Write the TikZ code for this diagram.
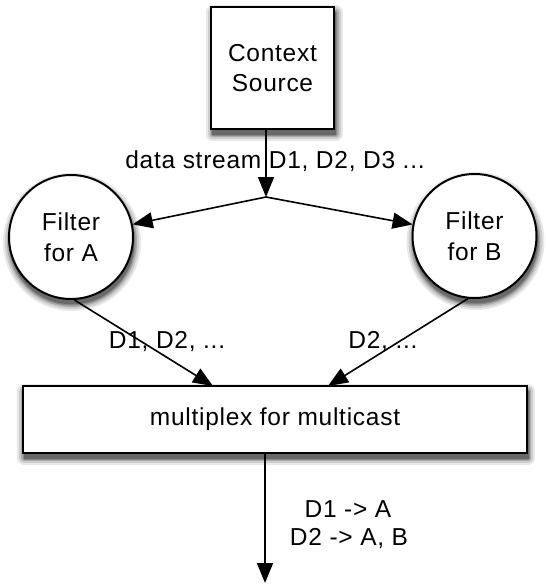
\documentclass[tikz,border=0pt]{standalone}
\usepackage{fontspec}
\setmainfont{Liberation Sans}[LetterSpace=3.0]
\usetikzlibrary{arrows.meta,calc}
\definecolor{shA}{RGB}{232,232,232}
\definecolor{shB}{RGB}{205,205,205}
\definecolor{shC}{RGB}{170,170,170}
\definecolor{shD}{RGB}{135,135,135}
\definecolor{shE}{RGB}{105,105,105}
\tikzset{
  txt/.style={font=\fontsize{24.5}{30.5}\selectfont, inner sep=0pt},
  boxnode/.style={draw, line width=2pt, fill=white, txt, align=center},
  filt/.style={circle, draw, line width=2pt, fill=white, txt, align=center, minimum size=124pt, inner sep=0pt},
  conn/.style={line width=1.6pt, -{Triangle[length=20pt,width=16pt]}},
  lbl/.style={txt, anchor=base},
  sh1/.style={line join=round, line width=14pt, draw=shA, fill=shA},
  sh2/.style={line join=round, line width=10pt, draw=shB, fill=shB},
  sh3/.style={line join=round, line width=6pt, draw=shC, fill=shC},
  sh4/.style={line join=round, line width=3pt, draw=shD, fill=shD},
  sh5/.style={line join=round, line width=0.5pt, draw=shE, fill=shE}
}
\begin{document}
\begin{tikzpicture}[x=1pt,y=-1pt]
\useasboundingbox (0,0) rectangle (546,584);
% shadows (drawn first, beneath the nodes)
\foreach \shs in {sh1,sh2,sh3,sh4,sh5} {
  \draw[\shs] (212.5,12) rectangle (335.5,134);
  \draw[\shs] (24,391) rectangle (528,458);
  \draw[\shs] (72,242) circle (62);
  \draw[\shs] (475.5,241) circle (62);
}
% nodes
\node[boxnode, minimum width=123pt, minimum height=122pt] (src) at (272.5,68) {Context\\Source};
\node[filt] (fa) at (71,237) {Filter\\for A};
\node[filt] (fb) at (474.5,236) {Filter\\for B};
\node[boxnode, minimum width=504pt, minimum height=67pt] (mux) at (275,419.5) {multiplex for multicast};
% coordinates
\coordinate (J) at (266,197);
\coordinate (srcout) at (266,129);
\coordinate (fain) at (213,386);
\coordinate (fbin) at (328,386);
\coordinate (muxout) at (265,453);
\coordinate (outend) at (265,583);
% connectors
\draw[conn] (srcout) -- (J);
\draw[conn] (J) -- (fa);
\draw[conn] (J) -- (fb);
\draw[conn] (fa.-87) -- (fain);
\draw[conn] (fb.-96) -- (fbin);
\draw[conn] (muxout) -- (outend);
% labels
\node[lbl] (ldata) at (275,168) {data stream D1, D2, D3 ...};
\node[lbl] (lA) at (167,348) {D1, D2, ...};
\node[lbl] (lB) at (383,348) {D2, ...};
\node[lbl] (lout1) at (348,517) {D1 -> A};
\node[lbl] (lout2) at (349,545) {D2 -> A, B};
\end{tikzpicture}
\end{document}
